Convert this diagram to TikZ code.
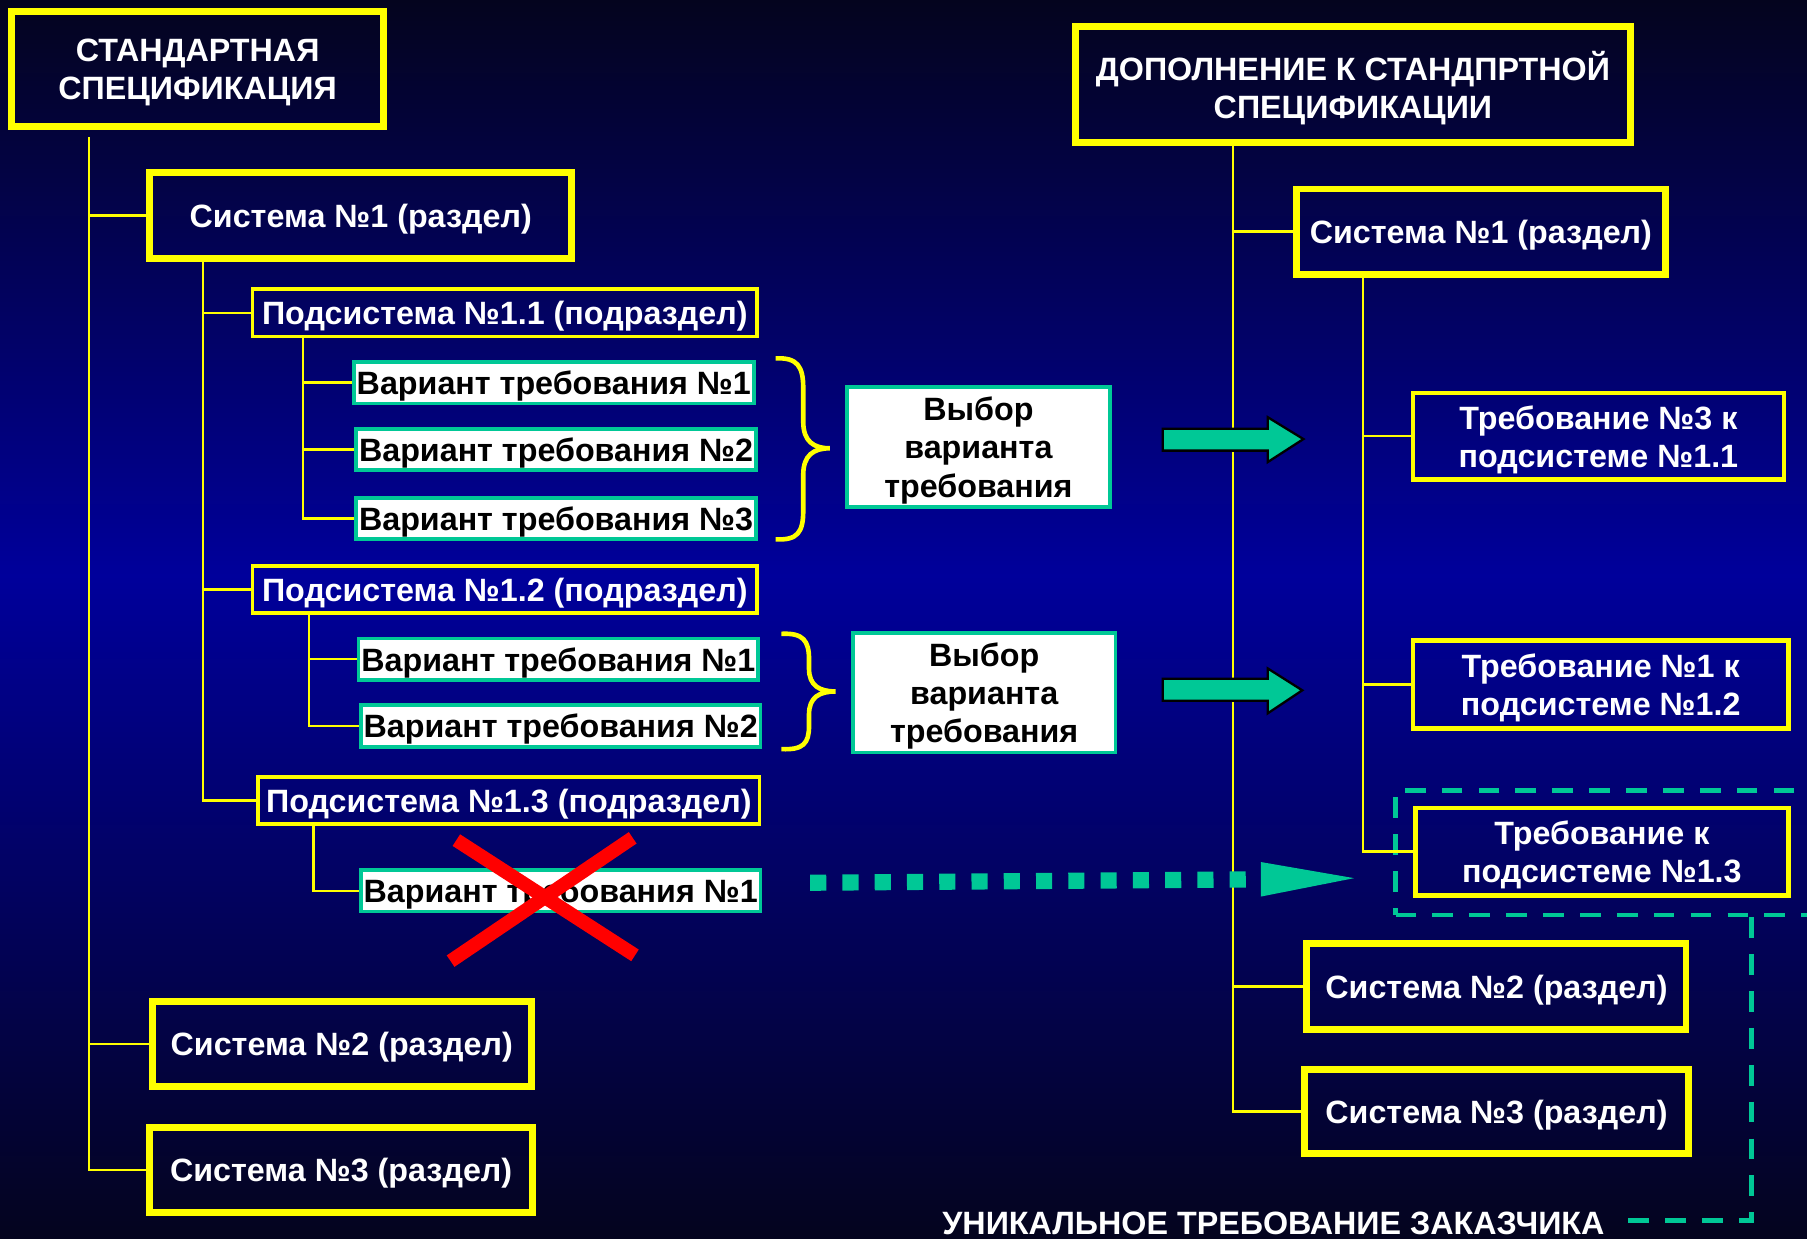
\documentclass[tikz,border=0pt]{standalone}
\usepackage{fontspec}
\setmainfont{Liberation Sans}
\definecolor{yel}{RGB}{255,255,0}
\definecolor{tealc}{RGB}{0,200,150}
\definecolor{bgdark}{RGB}{4,4,30}
\definecolor{bgblue}{RGB}{0,0,155}
\begin{document}
\begin{tikzpicture}[x=0.5pt,y=-0.5pt,
  font=\bfseries\fontsize{14pt}{16.5pt}\selectfont,
  conn/.style={draw=yel, line width=1pt},
  sysbox/.style={draw=yel, line width=3pt, text=white, inner sep=0pt, align=center, text depth=0pt},
  subbox/.style={draw=yel, line width=1.6pt, text=white, inner sep=0pt, minimum height=20.5pt, text depth=0pt},
  varbox/.style={draw=tealc, fill=white, line width=1.6pt, text=black, inner sep=0pt, minimum width=173.5pt, minimum height=18pt, text depth=0pt},
  reqbox/.style={draw=yel, line width=2pt, text=white, inner sep=0pt, align=center, text depth=0pt},
  choice/.style={draw=tealc, fill=white, line width=1.6pt, text=black, inner sep=0pt, align=center, minimum width=114pt, minimum height=52pt, text depth=0pt},
  bracestyle/.style={draw=yel, line width=2pt},
  fatarrow/.style={fill=tealc, draw=black, line width=1pt},
  tealdash/.style={draw=tealc, line width=2pt, dash pattern=on 9pt off 7pt}
]
\useasboundingbox (0,0) rectangle (1568,1075);
\shade[top color=bgdark, bottom color=bgblue] (0,0) rectangle (1568,500);
\shade[top color=bgblue, bottom color=bgdark] (0,499) rectangle (1568,1075);

% left tree
\node[sysbox, minimum width=161.5pt, minimum height=50pt] (t1) at (171.5,60) {СТАНДАРТНАЯ\\СПЕЦИФИКАЦИЯ};
\node[sysbox, minimum width=183pt, minimum height=37pt] (s1l) at (313,187) {Система №1 (раздел)};
\node[subbox, minimum width=219pt] (p11) at (438,271.5) {Подсистема №1.1 (подраздел)};
\node[varbox] (v11) at (480.5,332) {Вариант требования №1};
\node[varbox] (v12) at (482.5,390) {Вариант требования №2};
\node[varbox] (v13) at (482.5,450) {Вариант требования №3};
\node[choice] (c1) at (849,388) {Выбор\\варианта\\требования};
\node[subbox, minimum width=219pt] (p12) at (438,511.5) {Подсистема №1.2 (подраздел)};
\node[varbox] (v21) at (484.5,572) {Вариант требования №1};
\node[varbox] (v22) at (486.5,630) {Вариант требования №2};
\node[choice] (c2) at (854,601) {Выбор\\варианта\\требования};
\node[subbox, minimum width=217.5pt] (p13) at (441.5,694.5) {Подсистема №1.3 (подраздел)};
\node[varbox] (v31) at (486.5,773) {Вариант требования №1};
\node[sysbox, minimum width=164.5pt, minimum height=37pt] (s2l) at (296.5,906) {Система №2 (раздел)};
\node[sysbox, minimum width=166pt, minimum height=37pt] (s3l) at (296,1015) {Система №3 (раздел)};

% right tree
\node[sysbox, minimum width=241pt, minimum height=50.5pt] (t2) at (1174,73.5) {ДОПОЛНЕНИЕ К СТАНДПРТНОЙ\\СПЕЦИФИКАЦИИ};
\node[sysbox, minimum width=160pt, minimum height=37pt] (s1r) at (1285,201) {Система №1 (раздел)};
\node[reqbox, minimum width=161pt, minimum height=37.5pt] (r3) at (1387,378.5) {Требование №3 к\\подсистеме №1.1};
\node[reqbox, minimum width=163pt, minimum height=38pt] (r1) at (1389,594) {Требование №1 к\\подсистеме №1.2};
\node[reqbox, minimum width=162pt, minimum height=38pt] (r13) at (1390,739) {Требование к\\подсистеме №1.3};
\node[tealdash, minimum width=179.5pt, minimum height=54pt, inner sep=0pt] (dbox) at (1390.5,740) {};
\node[sysbox, minimum width=164.5pt, minimum height=37pt] (s2r) at (1298.5,856) {Система №2 (раздел)};
\node[sysbox, minimum width=166.5pt, minimum height=36.5pt] (s3r) at (1298.5,964.5) {Система №3 (раздел)};
\node[text=white, anchor=base, inner sep=0pt] (uniq) at (1105,1071) {УНИКАЛЬНОЕ ТРЕБОВАНИЕ ЗАКАЗЧИКА};

% connector columns
\coordinate (xl0) at (77,0);
\coordinate (xl1) at (176,0);
\coordinate (xl2) at (263,0);
\coordinate (xl3) at (268,0);
\coordinate (xl4) at (272,0);
\coordinate (xr0) at (1070,0);
\coordinate (xr1) at (1183,0);

\draw[conn] ([yshift=-3pt]t1.south -| xl0) -- (xl0 |- s3l.west) -- (s3l.west);
\draw[conn] (xl0 |- s1l.west) -- (s1l.west);
\draw[conn] (xl0 |- s2l.west) -- (s2l.west);
\draw[conn] (s1l.south -| xl1) -- (xl1 |- p13.west) -- (p13.west);
\draw[conn] (xl1 |- p11.west) -- (p11.west);
\draw[conn] (xl1 |- p12.west) -- (p12.west);
\draw[conn] (p11.south -| xl2) -- (xl2 |- v13.west) -- (v13.west);
\draw[conn] (xl2 |- v11.west) -- (v11.west);
\draw[conn] (xl2 |- v12.west) -- (v12.west);
\draw[conn] (p12.south -| xl3) -- (xl3 |- v22.west) -- (v22.west);
\draw[conn] (xl3 |- v21.west) -- (v21.west);
\draw[conn] (p13.south -| xl4) -- (xl4 |- v31.west) -- (v31.west);

\draw[conn] (t2.south -| xr0) -- (xr0 |- s3r.west) -- (s3r.west);
\draw[conn] (xr0 |- s1r.west) -- (s1r.west);
\draw[conn] (xr0 |- s2r.west) -- (s2r.west);
\draw[conn] (s1r.south -| xr1) -- (xr1 |- r13.west) -- (r13.west);
\draw[conn] (xr1 |- r3.west) -- (r3.west);
\draw[conn] (xr1 |- r1.west) -- (r1.west);

% braces
\draw[bracestyle] (673,311) .. controls (692,310) and (697,318) .. (697,337) -- (697,366)
  .. controls (697,383) and (706,389) .. (720,389)
  .. controls (706,389) and (697,395) .. (697,412) -- (697,443)
  .. controls (697,462) and (692,469) .. (673,468);
\draw[bracestyle] (678,550) .. controls (697,549) and (702,556) .. (702,572) -- (702,580)
  .. controls (702,595) and (711,600) .. (725,600)
  .. controls (711,600) and (702,605) .. (702,620) -- (702,630)
  .. controls (702,645) and (697,651) .. (678,650);

% fat arrows
\filldraw[fatarrow] (1009,372) -- (1100,372) -- (1100,362) -- (1131,381) -- (1100,401) -- (1100,391) -- (1009,391) -- cycle;
\filldraw[fatarrow] (1009,589) -- (1100,589) -- (1100,580) -- (1130,599) -- (1100,619) -- (1100,608) -- (1009,608) -- cycle;

% dotted arrow
\draw[tealc, line width=7pt, dash pattern=on 7pt off 7pt] (703,766) -- (1096,763);
\fill[tealc] (1094,748) -- (1175,762) -- (1094,778) -- cycle;

% red cross
\draw[red, line width=6pt] (396,729) -- (551,829);
\draw[red, line width=6pt] (549,727) -- (391,834);

% unique requirement connector
\coordinate (cu) at (1520,1059);
\coordinate (ue) at ([xshift=9pt]uniq.east);
\draw[tealdash] (dbox.south -| cu) -- (cu) -- (ue |- cu);
\end{tikzpicture}
\end{document}
